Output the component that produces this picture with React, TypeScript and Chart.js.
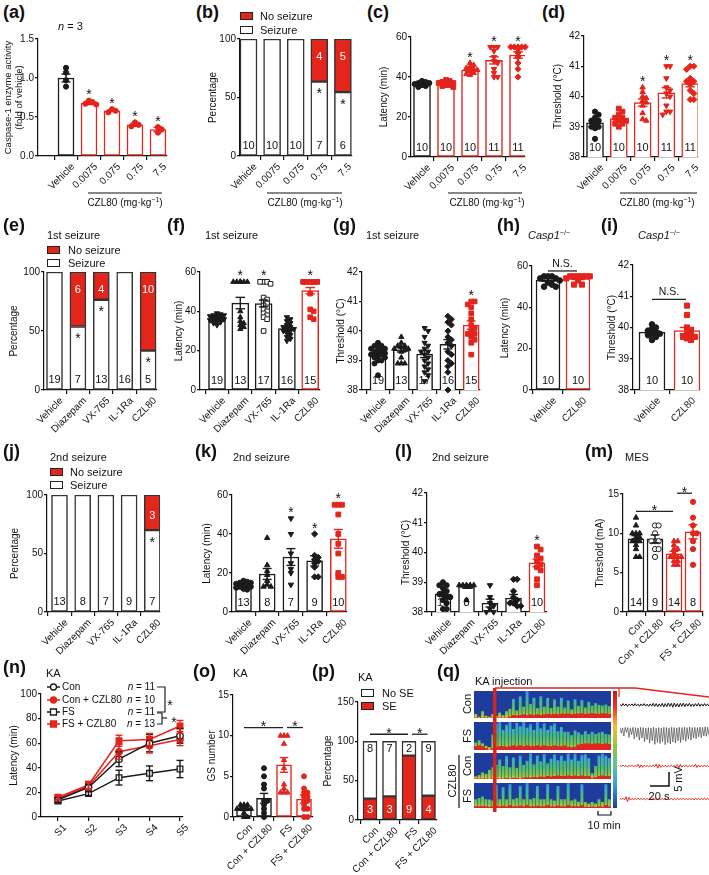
import React, { useEffect, useRef } from 'react';
import { Chart, registerables } from 'chart.js';

Chart.register(...registerables);

const FONT = "'Liberation Sans', Arial, Helvetica, sans-serif";
const RED = '#e3251c';
const BLK = '#1b1b1b';
const WHITE = '#ffffff';
const EDGE = '#333333';
const SPEC_BLUE = '#1d3c9c';
const SPEC_RED = '#e4261f';

Chart.defaults.font.family = FONT;
Chart.defaults.font.size = 10;
Chart.defaults.color = '#111111';

// ---------------- data ----------------
const doseLabels = ['Vehicle', '0.0075', '0.075', '0.75', '7.5'];
const drugLabels = ['Vehicle', 'Diazepam', 'VX-765', 'IL-1Ra', 'CZL80'];
const geneLabels = ['Vehicle', 'CZL80'];
const groupLabels = ['Con', 'Con + CZL80', 'FS', 'FS + CZL80'];
const stageLabels = ['S1', 'S2', 'S3', 'S4', 'S5'];

// y ticks: [min, max, step, decimals]
const ticksActivity = [0, 1.5, 0.5, 1];
const ticksPct = [0, 100, 50, 0];
const ticksLatency = [0, 60, 20, 0];
const ticksThreshold = [38, 42, 1, 0];
const ticksMes = [0, 15, 5, 0];
const ticksKaLatency = [0, 100, 20, 0];
const ticksGs = [0, 15, 5, 0];
const ticksSe = [0, 150, 50, 0];

// (a) caspase-1 activity
const aMean = [1.0, 0.68, 0.58, 0.4, 0.34];
const aSem = [0.05, 0.02, 0.01, 0.02, 0.03];
const aPts = [[1.13, 1.07, 0.97, 0.89], [0.71, 0.69, 0.67, 0.66], [0.6, 0.58, 0.56], [0.43, 0.4, 0.38], [0.37, 0.34, 0.3]];
const aStars = [0, 1, 1, 1, 1];

// (b) seizure incidence
const bSeizure = [10, 10, 10, 7, 6];
const bNoSeizure = [0, 0, 0, 4, 5];
const bStars = [0, 0, 0, 1, 1];

// (c) latency
const cMean = [36.2, 36.6, 43.5, 48.3, 51.0];
const cSem = [0.4, 0.4, 0.7, 1.8, 1.6];
const cN = [10, 10, 10, 11, 11];
const cStars = [0, 0, 1, 1, 1];
const cPts = [
  [35, 35.5, 36, 36, 36.5, 36.5, 37, 37, 37.5, 38],
  [35, 35.5, 36, 36, 36.5, 37, 37, 37.5, 38, 38.5],
  [41, 41.5, 42, 43, 43.5, 44, 44.5, 45, 46, 47],
  [40, 40, 42, 44, 47, 48, 50, 53, 55, 55, 55],
  [40, 44, 47, 50, 52, 54, 55, 55, 55, 55, 55],
];

// (d) threshold
const dMean = [39.13, 39.27, 39.8, 40.12, 40.43];
const dSem = [0.08, 0.06, 0.12, 0.17, 0.11];
const dN = [10, 10, 10, 11, 11];
const dStars = [0, 0, 1, 1, 1];
const dPts = [
  [39.5, 39.4, 39.3, 39.2, 39.2, 39.1, 39.0, 39.0, 38.95, 38.6],
  [39.6, 39.5, 39.4, 39.3, 39.3, 39.2, 39.2, 39.1, 39.1, 39.0],
  [40.3, 40.15, 40.0, 39.95, 39.85, 39.8, 39.7, 39.45, 39.25, 39.2],
  [41.0, 41.0, 40.6, 40.3, 40.2, 40.1, 40.0, 39.7, 39.5, 39.5, 39.4],
  [41.0, 41.0, 40.9, 40.6, 40.5, 40.5, 40.4, 40.2, 40.1, 39.9, 39.9],
];

// (e) 1st seizure incidence
const eSeizure = [19, 7, 13, 16, 5];
const eNoSeizure = [0, 6, 4, 0, 10];
const eStars = [0, 1, 1, 0, 1];

// (f) 1st seizure latency
const fMean = [36.3, 44.2, 44.0, 31.2, 50.5];
const fSem = [0.4, 2.9, 1.7, 0.9, 1.6];
const fN = [19, 13, 17, 16, 15];
const fStars = [0, 1, 1, 0, 1];
const fPts = [
  [39, 38.5, 38, 38, 37.5, 37.5, 37, 37, 36.5, 36.5, 36, 36, 35.5, 35.5, 35, 35, 34.5, 34, 33],
  [55, 55, 55, 55, 55, 55, 40, 37, 35, 34, 33, 32, 31],
  [55, 55, 55, 54, 47, 46, 45, 44, 43, 42, 41, 40, 39, 38, 37, 36, 30],
  [37, 36, 35, 34, 33, 32, 32, 31, 31, 30, 30, 29, 28, 27, 26, 25],
  [55, 55, 55, 55, 55, 55, 55, 55, 55, 55, 49, 41, 40, 37, 36],
];

// (g) 1st seizure threshold
const gMean = [39.26, 39.36, 39.22, 39.55, 40.2];
const gSem = [0.06, 0.07, 0.12, 0.16, 0.14];
const gN = [19, 13, 17, 16, 15];
const gStars = [0, 0, 0, 0, 1];
const gPts = [
  [39.6, 39.5, 39.5, 39.45, 39.4, 39.4, 39.35, 39.3, 39.3, 39.25, 39.2, 39.2, 39.15, 39.1, 39.1, 39.0, 39.0, 38.9, 38.5],
  [39.8, 39.6, 39.5, 39.5, 39.45, 39.4, 39.4, 39.35, 39.3, 39.1, 38.9, 38.9, 38.9],
  [40.1, 40.0, 39.8, 39.6, 39.5, 39.4, 39.3, 39.3, 39.2, 39.1, 39.0, 38.9, 38.8, 38.7, 38.6, 38.5, 38.3],
  [40.5, 40.4, 40.3, 40.2, 40.0, 39.8, 39.7, 39.6, 39.5, 39.3, 39.2, 39.0, 38.9, 38.8, 38.6, 38.0],
  [41.0, 41.0, 40.9, 40.8, 40.6, 40.4, 40.2, 40.1, 40.0, 39.9, 39.9, 39.8, 39.7, 39.6, 39.2],
];

// (h) Casp1-/- latency
const hMean = [53.2, 54.0];
const hSem = [0.6, 0.5];
const hN = [10, 10];
const hPts = [[55, 55, 55, 54, 54, 53, 52, 51, 50, 50], [55, 55, 55, 55, 55, 55, 54, 53, 51, 51]];
const hSig = [[0, 1, 57.6]];

// (i) Casp1-/- threshold
const iMean = [39.85, 39.9];
const iSem = [0.05, 0.1];
const iN = [10, 10];
const iPts = [[40.1, 40.0, 39.95, 39.9, 39.85, 39.8, 39.8, 39.75, 39.7, 39.6], [40.7, 40.4, 40.0, 39.9, 39.8, 39.75, 39.7, 39.7, 39.65, 39.6]];
const iSig = [[0, 1, 40.9]];

// (j) 2nd seizure incidence
const jSeizure = [13, 8, 7, 9, 7];
const jNoSeizure = [0, 0, 0, 0, 3];
const jStars = [0, 0, 0, 0, 1];

// (k) 2nd seizure latency
const kMean = [13.5, 19.5, 28.2, 26.2, 37.5];
const kSem = [0.4, 2.8, 4.3, 2.6, 4.8];
const kN = [13, 8, 7, 9, 10];
const kStars = [0, 0, 1, 1, 1];
const kPts = [
  [16, 15.5, 15, 15, 14.5, 14, 13.5, 13, 13, 12.5, 12, 12, 11.5],
  [38, 24, 21, 19, 16, 14, 13, 13],
  [48, 40, 30, 25, 22, 20, 14],
  [40, 29, 28, 27, 26, 25, 23, 18, 18],
  [55, 55, 55, 50, 40, 35, 30, 20, 18, 18],
];

// (l) 2nd seizure threshold
const lMean = [38.6, 38.86, 38.3, 38.47, 39.65];
const lSem = [0.08, 0.06, 0.13, 0.12, 0.13];
const lN = [13, 8, 7, 9, 10];
const lStars = [0, 0, 0, 0, 1];
const lPts = [
  [39.0, 38.9, 38.9, 38.8, 38.7, 38.6, 38.6, 38.5, 38.5, 38.4, 38.3, 38.1, 38.1],
  [38.9, 38.9, 38.9, 38.9, 38.9, 38.85, 38.85, 38.4],
  [38.9, 38.5, 38.3, 38.2, 38.1, 38.0, 38.0],
  [39.1, 39.1, 38.7, 38.5, 38.4, 38.3, 38.3, 38.2, 38.2],
  [40.2, 40.1, 39.9, 39.8, 39.7, 39.6, 39.5, 39.4, 39.1, 38.9],
];

// (m) MES threshold
const mMean = [9.3, 9.3, 7.4, 10.2];
const mSem = [0.4, 0.5, 0.3, 0.9];
const mN = [14, 9, 14, 8];
const mPts = [
  [12, 11, 10, 10, 10, 9.5, 9.5, 9, 9, 8.5, 8, 7, 7, 9],
  [11, 11, 10, 9, 9, 9, 8, 8, 7],
  [9, 9, 8.5, 8, 8, 7.5, 7, 7, 7, 7, 6.5, 6.5, 6, 6],
  [14, 12, 11, 10, 10, 9, 8, 6],
];
const mSig = [[0, 2, 12.8], [2, 3, 15.1]];

// (n) KA latency across stages
const nCon = [14, 24, 47, 60, 66];
const nConSem = [2, 2.5, 6, 7, 6];
const nConCzl = [15, 25, 53, 58, 63];
const nConCzlSem = [2, 3, 6, 6, 5];
const nFs = [13, 19, 32, 35.5, 39];
const nFsSem = [1.5, 1.5, 6, 6, 7];
const nFsCzl = [16, 26, 62, 63, 74];
const nFsCzlSem = [2, 3, 4.5, 5, 4.5];
const nN = [11, 10, 11, 13];

// (o) GS number
const oMean = [1.0, 2.3, 6.4, 2.2];
const oSem = [0.2, 0.6, 0.9, 0.5];
const oN = [11, 10, 11, 13];
const oPts = [
  [1.5, 1.5, 1.5, 1, 1, 1, 1, 1, 0.5, 0, 0],
  [6, 5, 4, 3.5, 2, 2, 1.5, 1, 0.5, 0],
  [10, 10, 10, 9, 7, 6, 4, 3.5, 3, 3, 3],
  [5, 3.5, 3, 3, 2.5, 2.5, 2, 2, 1.5, 1, 1, 0, 0],
];
const oSig = [[0, 2, 11], [2, 3, 11]];

// (p) SE incidence
const pSE = [3, 3, 9, 4];
const pNoSE = [8, 7, 2, 9];
const pSig = [[0, 2, 109], [2, 3, 109]];

// (q) spectrogram columns (fraction of row height): red band, green activity
const specRed1 = [0, 0, 0, 0, 0, 0, 0, 0, 0, 0, 0.04, 0.1, 0.08, 0.1, 0.12, 0.1, 0.12, 0.1, 0.12, 0.1, 0.12, 0.14, 0.12, 0.14, 0.12, 0.15, 0.14, 0.15, 0.12, 0.14, 0.15, 0.16, 0.14, 0.15, 0.16, 0.15, 0.14, 0.16, 0.15, 0.14];
const specGreen1 = [0.15, 0.05, 0.25, 0.08, 0.05, 0.15, 0.08, 0.2, 0.1, 0.25, 0.3, 0.6, 0.2, 0.7, 0.3, 0.95, 0.4, 0.65, 0.25, 0.7, 0.3, 0.6, 0.25, 0.55, 0.3, 0.6, 0.25, 0.5, 0.2, 0.55, 0.3, 0.5, 0.25, 0.45, 0.3, 0.4, 0.35, 0.3, 0.35, 0.3];
const specRed2 = [0.12, 0.15, 0.12, 0.05, 0, 0.05, 0.1, 0.12, 0.12, 0.1, 0.12, 0.15, 0.12, 0.15, 0.12, 0.15, 0.12, 0.12, 0.15, 0.12, 0.15, 0.12, 0.12, 0.15, 0.12, 0.12, 0.15, 0.1, 0.08, 0.1, 0.18, 0.2, 0.22, 0.22, 0.2, 0.22, 0.22, 0.2, 0.22, 0.2];
const specGreen2 = [0.15, 0.2, 0.12, 0.1, 0.1, 0.5, 0.85, 0.9, 0.6, 0.8, 0.9, 0.6, 0.85, 0.7, 0.9, 0.65, 0.8, 0.6, 0.85, 0.65, 0.8, 0.6, 0.75, 0.8, 0.55, 0.7, 0.5, 0.55, 0.45, 0.6, 0.45, 0.35, 0.45, 0.35, 0.45, 0.35, 0.4, 0.45, 0.35, 0.35];
const specRed3 = [0, 0, 0, 0, 0, 0, 0, 0, 0, 0.03, 0, 0.03, 0.03, 0, 0.04, 0.05, 0.04, 0.06, 0.05, 0.08, 0.06, 0.1, 0.08, 0.1, 0.12, 0.1, 0.1, 0.12, 0.1, 0.12, 0.1, 0.12, 0.1, 0.1, 0.02, 0.05, 0.1, 0.12, 0.1, 0.1];
const specGreen3 = [0.1, 0.15, 0.25, 0.2, 0.35, 0.45, 0.55, 0.75, 0.5, 0.85, 0.45, 0.8, 0.4, 0.9, 0.5, 0.65, 0.95, 0.5, 0.85, 0.6, 0.9, 0.5, 0.7, 0.85, 0.6, 0.8, 0.6, 0.85, 0.65, 0.85, 0.6, 0.8, 0.85, 0.7, 0.2, 0.45, 0.8, 0.85, 0.8, 0.7];
const specRed4 = [0.05, 0.05, 0.06, 0.05, 0.04, 0.05, 0.08, 0.05, 0.08, 0.05, 0.1, 0.05, 0.05, 0.08, 0.05, 0.1, 0.05, 0.05, 0.08, 0.05, 0.05, 0.1, 0.05, 0.05, 0.08, 0.05, 0.05, 0.1, 0.05, 0.05, 0.05, 0.1, 0.04, 0.03, 0.04, 0.03, 0.05, 0.04, 0.1, 0.05];
const specGreen4 = [0.3, 0.35, 0.4, 0.3, 0.3, 0.25, 0.85, 0.3, 0.75, 0.3, 0.85, 0.3, 0.35, 0.8, 0.3, 0.9, 0.3, 0.35, 0.8, 0.3, 0.3, 0.85, 0.3, 0.25, 0.8, 0.3, 0.3, 0.9, 0.25, 0.3, 0.2, 0.85, 0.2, 0.15, 0.2, 0.15, 0.3, 0.2, 0.85, 0.3];

// (q) EEG traces (mV)
const trace1 = [0.3, -0.4, 0.5, -0.3, 0.4, -0.5, 0.3, -0.2, 0.4, -0.4, 0.5, -0.3, 0.3, -0.5, 0.4, -0.3, 0.5, -0.4, 0.3, -0.5, 0.4, -0.4, 0.6, -0.5, 0.5, -0.6, 0.4, -0.5, 0.6, -0.7, 0.5, -0.6, 0.7, -0.5, 0.6, -0.8, 0.7, -0.6, 0.5, -0.7, 0.6, -0.5, 0.7, -0.6, 0.5, -0.4, 0.6, -0.5, 0.4, -0.5, 0.5, -0.4, 0.6, -0.5, 0.4, -0.4, 0.5, -0.3, 0.4, -0.4];
const trace2 = [0.5, -1.5, 0.4, -2.5, 0.6, -1.2, 0.5, -3, 0.4, -2, 0.6, -3.5, 0.5, -2.8, 0.4, -4, 0.6, -3.2, 0.5, -4.5, 0.3, -3.8, 0.5, -5, 0.4, -4.2, 0.6, -5.5, 0.3, -4.8, 0.5, -5.2, 0.4, -4.5, 0.6, -5.6, 0.5, -4.9, 0.4, -5.3, 0.6, -4.6, 0.5, -5, 0.4, -4.2, 0.6, -4.8, 0.5, -3.9, 0.6, -4.4, 0.5, -3.6, 0.7, -4, 0.5, -3.2, 0.6, -3.5, 0.5, -2.8, 0.7, -3.1, 0.6, -2.5, 0.8, -2.6, 0.6, -2.2];
const trace3 = [0.2, -0.2, 0.3, -0.2, 0.2, -0.3, 0.2, -0.2, 0.3, -0.3, 0.2, -0.2, 0.6, -0.6, 0.4, -0.5, 0.3, -0.2, 0.2, -0.3, 0.2, -0.2, 0.3, -0.2, 0.7, -0.8, 0.6, -0.5, 0.3, -0.2, 0.2, -0.3, 0.2, -0.2, 0.3, -0.2, 0.2, -0.3, 0.5, -0.7, 0.6, -0.4, 0.2, -0.2, 0.3, -0.3, 0.2, -0.2, 0.3, -0.2, 0.6, -0.5, 0.4, -0.3, 0.2, -0.2, 0.3, -0.2, 0.2, -0.3];
const trace4 = [0.2, -0.2, 0.3, -0.3, 0.8, -0.9, 0.6, -0.4, 0.2, -0.2, 0.2, -0.2, 0.3, -0.2, 0.2, -0.2, 0.2, -0.3, 0.2, -0.2, 0.2, -0.2, 0.3, -0.2, 0.2, -0.2, 0.2, -0.2, 0.2, -0.2, 0.3, -0.2, 0.2, -0.2, 0.2, -0.3, 0.2, -0.2, 0.2, -0.2, 0.2, -0.2, 0.3, -0.2, 0.2, -0.2, 0.2, -0.2, 0.2, -0.3, 0.2, -0.2, 0.2, -0.2, 0.2, -0.2, 0.3, -0.2, 0.2, -0.2];

// ---------------- layout ----------------
type Lay = { titleX: number; axisX: number; xRight: number; yTop: number; yBottom: number; c0: number; step: number; padTop?: number };
const PAD_L = 40;
const PAD_R = 12;
const XH = 80;

const aLay: Lay = { titleX: 9, axisX: 38, xRight: 167, yTop: 39, yBottom: 156, c0: 66, step: 23 };
const bLay: Lay = { titleX: 213, axisX: 240, xRight: 352, yTop: 39, yBottom: 156, c0: 248.5, step: 23.6 };
const cLay: Lay = { titleX: 384, axisX: 411, xRight: 525, yTop: 37, yBottom: 157, c0: 422, step: 24 };
const dLay: Lay = { titleX: 558, axisX: 584, xRight: 698, yTop: 36, yBottom: 157, c0: 595, step: 23.8 };
const eLay: Lay = { titleX: 14, axisX: 44, xRight: 157, yTop: 272, yBottom: 390, c0: 54.5, step: 23.4 };
const fLay: Lay = { titleX: 179, axisX: 200, xRight: 320, yTop: 272, yBottom: 390, c0: 217, step: 23.3 };
const gLay: Lay = { titleX: 341, axisX: 362, xRight: 480, yTop: 272, yBottom: 390, c0: 378, step: 23.3 };
const hLay: Lay = { titleX: 505, axisX: 532, xRight: 590, yTop: 266, yBottom: 390, c0: 548, step: 30 };
const iLay: Lay = { titleX: 612, axisX: 633, xRight: 700, yTop: 265, yBottom: 390, c0: 652, step: 35 };
const jLay: Lay = { titleX: 15, axisX: 47, xRight: 160, yTop: 495, yBottom: 612, c0: 59.5, step: 23.2 };
const kLay: Lay = { titleX: 207, axisX: 232, xRight: 347, yTop: 495, yBottom: 612, c0: 243.5, step: 23.7 };
const lLay: Lay = { titleX: 406, axisX: 427, xRight: 547, yTop: 493, yBottom: 612, c0: 443, step: 23.5 };
const mLay: Lay = { titleX: 600, axisX: 623, xRight: 703, yTop: 494, yBottom: 612, c0: 636, step: 19 };
const nLay: Lay = { titleX: 14, axisX: 41, xRight: 183, yTop: 694, yBottom: 817, c0: 58, step: 30.5, padTop: 18 };
const oLay: Lay = { titleX: 212, axisX: 233, xRight: 313, yTop: 695, yBottom: 817, c0: 244, step: 20 };
const pLay: Lay = { titleX: 328, axisX: 358, xRight: 437, yTop: 702, yBottom: 820, c0: 370, step: 19.5 };

function frame(l: Lay) {
  const padTop = l.padTop ?? 10;
  const left = Math.round(l.titleX - 6 - PAD_L);
  const top = l.yTop - padTop;
  return {
    left, top, padTop,
    w: l.xRight + PAD_R - left,
    h: l.yBottom - top + XH,
    yw: l.axisX - (left + PAD_L),
    xmin: (l.axisX - l.c0) / l.step,
    xmax: (l.xRight - l.c0) / l.step,
  };
}

// ---------------- helpers ----------------
const xGrid = { display: true, drawOnChartArea: false, drawTicks: true, tickLength: 4, color: '#111', lineWidth: 1.2 };
const yGrid = { display: true, drawOnChartArea: false, drawTicks: true, tickLength: 3, color: '#111', lineWidth: 1.2 };
const borderOpts = { display: true, color: '#111', width: 1.2 };

function xScale(labels: string[], min: number, max: number, stacked = false) {
  return {
    type: 'linear', min, max, bounds: 'data', stacked, offset: false,
    afterBuildTicks: (sc: any) => { sc.ticks = labels.map((_, i) => ({ value: i })); },
    afterFit: (sc: any) => { sc.height = XH; },
    ticks: {
      autoSkip: false, minRotation: 45, maxRotation: 45, padding: 1, labelOffset: 7, color: '#111', font: { size: 10 },
      callback: (v: any) => labels[Math.round(Number(v))] ?? '',
    },
    grid: xGrid, border: borderOpts,
  };
}

function yScale(t: number[], title: any, yw: number, stacked = false) {
  const [min, max, step, dec] = t;
  const multi = Array.isArray(title);
  return {
    type: 'linear', min, max, stacked,
    afterFit: (sc: any) => { sc.width = yw; },
    ticks: { stepSize: step, padding: 1, color: '#111', font: { size: 10 }, callback: (v: any) => Number(v).toFixed(dec) },
    grid: yGrid, border: borderOpts,
    title: {
      display: true, text: title, color: '#111',
      font: multi ? { size: 9.5, lineHeight: 1.12 } : { size: 10 },
      padding: { top: 0, bottom: 0 },
    },
  };
}

function baseOptions(f: any, xs: any, ys: any) {
  return {
    responsive: false, maintainAspectRatio: false, animation: false, devicePixelRatio: 1, events: [],
    layout: { padding: { left: PAD_L, right: PAD_R, top: f.padTop, bottom: 0 } },
    plugins: { legend: { display: false }, tooltip: { enabled: false }, title: { display: false } },
    scales: { x: xs, y: ys },
  };
}

const px = (c: any, v: number) => c.scales.x.getPixelForValue(v);
const py = (c: any, v: number) => c.scales.y.getPixelForValue(v);

function txt(ctx: any, s: string, x: number, y: number, size = 11, color = '#111', align = 'center', style = '') {
  ctx.font = `${style} ${size}px ${FONT}`;
  ctx.fillStyle = color;
  ctx.textAlign = align;
  ctx.textBaseline = 'middle';
  ctx.fillText(s, x, y);
}
function starAt(ctx: any, x: number, y: number) {
  ctx.font = `14px ${FONT}`;
  ctx.fillStyle = '#111';
  ctx.textAlign = 'center';
  ctx.textBaseline = 'alphabetic';
  ctx.fillText('*', x, y + 0.54 * 14);
}
function seg(ctx: any, pts: number[][], color = '#111', w = 1.2) {
  ctx.strokeStyle = color; ctx.lineWidth = w; ctx.beginPath();
  pts.forEach((p, i) => (i ? ctx.lineTo(p[0], p[1]) : ctx.moveTo(p[0], p[1])));
  ctx.stroke();
}
function errBars(chart: any, means: number[], sems: number[], colors: string[], cap: number) {
  const ctx = chart.ctx;
  means.forEach((m, i) => {
    const x = px(chart, i), y1 = py(chart, m - sems[i]), y2 = py(chart, m + sems[i]);
    seg(ctx, [[x, y1], [x, y2]], colors[i], 1.4);
    seg(ctx, [[x - cap, y1], [x + cap, y1]], colors[i], 1.4);
    seg(ctx, [[x - cap, y2], [x + cap, y2]], colors[i], 1.4);
  });
}
function drawSig(chart: any, sig: number[][], label: string) {
  const ctx = chart.ctx;
  let prevEnd = -1;
  sig.forEach(([i, j, v]) => {
    const x1 = px(chart, i) + (i === prevEnd ? 3 : 0);
    const x2 = px(chart, j) - 1;
    const y = py(chart, v);
    seg(ctx, [[x1, y], [x2, y]], '#222', 1.3);
    if (label === '*') starAt(ctx, (x1 + x2) / 2, y - 4);
    else txt(ctx, label, (x1 + x2) / 2, y - 7, 10.5);
    prevEnd = j;
  });
}

function marker(m: string, color: string) {
  switch (m) {
    case 'oc': return { style: 'circle', rot: 0, fill: WHITE, scale: 1 };
    case 's': return { style: 'rect', rot: 0, fill: color, scale: 1.3 };
    case 'os': return { style: 'rect', rot: 0, fill: WHITE, scale: 1.3 };
    case 't': return { style: 'triangle', rot: 0, fill: color, scale: 1.2 };
    case 'td': return { style: 'triangle', rot: 180, fill: color, scale: 1.2 };
    case 'd': return { style: 'rectRot', rot: 0, fill: color, scale: 1.2 };
    default: return { style: 'circle', rot: 0, fill: color, scale: 1 };
  }
}

function swarm(vals: number[], ytol: number, dx: number, maxOff: number): number[] {
  const res: number[] = new Array(vals.length).fill(0);
  const placed: { o: number; v: number }[] = [];
  const K = Math.max(0, Math.floor(maxOff / dx));
  const cands: number[] = [0];
  for (let k = 1; k <= K; k++) cands.push(k * dx, -k * dx);
  const idx = vals.map((_, i) => i).sort((a, b) => vals[b] - vals[a]);
  for (const i of idx) {
    const v = vals[i];
    let best = 0, bestScore = Infinity;
    for (const o of cands) {
      let score = 0;
      for (const p of placed) if (Math.abs(p.v - v) < ytol && Math.abs(p.o - o) < dx * 0.95) score++;
      if (score < bestScore) { bestScore = score; best = o; if (score === 0) break; }
    }
    res[i] = best;
    placed.push({ o: best, v });
  }
  return res;
}

// ---------------- panel builders ----------------
type DotSpec = {
  lay: Lay; labels: string[]; mean: number[]; sem: number[]; pts: number[][]; colors: string[]; markers: string[];
  counts: number[]; stars: number[]; y: number[]; ytitle: any; barW: number; r: number; sig?: number[][]; sigLabel?: string;
};

function dotPanel(s: DotSpec) {
  const f = frame(s.lay);
  const upp = (s.y[1] - s.y[0]) / (s.lay.yBottom - s.lay.yTop);
  const make = () => {
    const datasets: any[] = [{
      type: 'bar', data: s.mean.map((m, i) => ({ x: i, y: m })),
      backgroundColor: WHITE, borderColor: s.colors, borderWidth: 1.5, borderSkipped: false,
      barThickness: s.barW, order: 3,
    }];
    s.pts.forEach((vals, g) => {
      const mk = marker(s.markers[g], s.colors[g]);
      const offs = swarm(vals, s.r * 1.5 * upp, (s.r * 1.4) / s.lay.step, (s.barW * 0.5) / s.lay.step);
      datasets.push({
        type: 'scatter', data: vals.map((v, k) => ({ x: g + offs[k], y: v })),
        pointStyle: mk.style, pointRotation: mk.rot, pointRadius: s.r * mk.scale,
        pointBackgroundColor: mk.fill, pointBorderColor: s.colors[g], pointBorderWidth: 1, order: 1, clip: false,
      });
    });
    const plugin = {
      id: 'dotExtras',
      afterDatasetsDraw(chart: any) {
        const ctx = chart.ctx;
        ctx.save();
        errBars(chart, s.mean, s.sem, s.colors, s.barW * 0.28);
        const yb = py(chart, s.y[0]);
        s.counts.forEach((n, i) => txt(ctx, String(n), px(chart, i), yb - 9, 11));
        s.stars.forEach((st, i) => {
          if (!st) return;
          const top = Math.min(py(chart, Math.max(...s.pts[i])), py(chart, s.mean[i] + s.sem[i]));
          starAt(ctx, px(chart, i), top - 9);
        });
        if (s.sig) drawSig(chart, s.sig, s.sigLabel || '*');
        ctx.restore();
      },
    };
    return {
      type: 'bar', data: { datasets },
      options: baseOptions(f, xScale(s.labels, f.xmin, f.xmax), yScale(s.y, s.ytitle, f.yw)),
      plugins: [plugin],
    };
  };
  return { x: f.left, y: f.top, w: f.w, h: f.h, make };
}

type PctSpec = {
  lay: Lay; labels: string[]; bottom: number[]; top: number[]; bottomFill: string; topFill: string;
  bottomText: string; topText: string; stars: number[]; y: number[]; barW: number; topOff: number; sig?: number[][];
};

function pctPanel(s: PctSpec) {
  const f = frame(s.lay);
  const make = () => {
    const tot = s.bottom.map((b, i) => b + s.top[i]);
    const bp = s.bottom.map((b, i) => (b / tot[i]) * 100);
    const tp = s.top.map((t, i) => (t / tot[i]) * 100);
    const ds = (vals: number[], fill: string) => ({
      type: 'bar', data: vals.map((v, i) => ({ x: i, y: v > 0 ? v : null })),
      backgroundColor: fill, borderColor: EDGE, borderWidth: 1.5, borderSkipped: false, barThickness: s.barW,
    });
    const plugin = {
      id: 'pctExtras',
      afterDatasetsDraw(chart: any) {
        const ctx = chart.ctx;
        ctx.save();
        const yb = py(chart, 0);
        s.bottom.forEach((b, i) => txt(ctx, String(b), px(chart, i), yb - 10, 11, s.bottomText));
        s.top.forEach((t, i) => { if (t > 0) txt(ctx, String(t), px(chart, i), py(chart, 100) + s.topOff, 11, s.topText); });
        s.stars.forEach((st, i) => { if (st) starAt(ctx, px(chart, i), py(chart, bp[i]) + 9); });
        if (s.sig) drawSig(chart, s.sig, '*');
        ctx.restore();
      },
    };
    return {
      type: 'bar', data: { datasets: [ds(bp, s.bottomFill), ds(tp, s.topFill)] },
      options: baseOptions(f, xScale(s.labels, f.xmin, f.xmax, true), yScale(s.y, 'Percentage', f.yw, true)),
      plugins: [plugin],
    };
  };
  return { x: f.left, y: f.top, w: f.w, h: f.h, make };
}

function linePanel() {
  const f = frame(nLay);
  const series = [
    { name: groupLabels[0], vals: nCon, sem: nConSem, color: BLK, style: 'circle', fill: WHITE },
    { name: groupLabels[1], vals: nConCzl, sem: nConCzlSem, color: RED, style: 'circle', fill: RED },
    { name: groupLabels[2], vals: nFs, sem: nFsSem, color: BLK, style: 'rect', fill: WHITE },
    { name: groupLabels[3], vals: nFsCzl, sem: nFsCzlSem, color: RED, style: 'rect', fill: RED },
  ];
  const make = () => {
    const datasets = series.map((s) => ({
      type: 'line', data: s.vals.map((v, i) => ({ x: i, y: v })), borderColor: s.color, borderWidth: 1.5,
      pointStyle: s.style, pointRadius: s.style === 'rect' ? 4 : 3.2, pointBackgroundColor: s.fill,
      pointBorderColor: s.color, pointBorderWidth: 1.3, clip: false, tension: 0,
    }));
    const plugin = {
      id: 'lineExtras',
      afterDatasetsDraw(chart: any) {
        const ctx = chart.ctx;
        ctx.save();
        series.forEach((s) => errBars(chart, s.vals, s.sem, s.vals.map(() => s.color), 3.5));
        const ox = f.left, oy = f.top;
        const rows = [687, 700, 712, 724];
        series.forEach((s, k) => {
          const y = rows[k] - oy;
          seg(ctx, [[47 - ox, y], [60 - ox, y]], s.color, 1.5);
          const mx = 53.5 - ox;
          ctx.fillStyle = s.fill; ctx.strokeStyle = s.color; ctx.lineWidth = 1.3;
          ctx.beginPath();
          if (s.style === 'circle') ctx.arc(mx, y, 3, 0, Math.PI * 2); else ctx.rect(mx - 3, y - 3, 6, 6);
          ctx.fill(); ctx.stroke();
          txt(ctx, s.name, 62 - ox, y, 10, '#111', 'left');
          ctx.font = `10px ${FONT}`;
          const tail = ` = ${nN[k]}`;
          const w2 = ctx.measureText(tail).width;
          txt(ctx, tail, 155 - ox, y, 10, '#111', 'right');
          txt(ctx, 'n', 155 - ox - w2, y, 10, '#111', 'right', 'italic');
        });
        seg(ctx, [[157 - ox, rows[0] - oy], [165 - ox, rows[0] - oy], [165 - ox, rows[2] - oy], [157 - ox, rows[2] - oy]], '#222', 1.2);
        seg(ctx, [[157 - ox, rows[2] - oy + 1], [162 - ox, rows[2] - oy + 1], [162 - ox, rows[3] - oy], [157 - ox, rows[3] - oy]], '#222', 1.2);
        seg(ctx, [[162 - ox, (rows[2] + rows[3]) / 2 - oy], [167 - ox, (rows[2] + rows[3]) / 2 - oy]], '#222', 1.2);
        starAt(ctx, 170 - ox, 702 - oy);
        starAt(ctx, 174 - ox, 719 - oy);
        ctx.restore();
      },
    };
    return {
      type: 'line', data: { datasets },
      options: baseOptions(f, xScale(stageLabels, f.xmin, f.xmax), yScale(ticksKaLatency, 'Latency (min)', f.yw)),
      plugins: [plugin],
    };
  };
  return { x: f.left, y: f.top, w: f.w, h: f.h, make };
}

const specBg = {
  id: 'specBg',
  beforeDatasetsDraw(chart: any) {
    const { ctx, chartArea: a } = chart;
    ctx.save(); ctx.fillStyle = SPEC_BLUE; ctx.fillRect(a.left, a.top, a.right - a.left, a.bottom - a.top); ctx.restore();
  },
};

function specPanel(x: number, y: number, w: number, h: number, red: number[], green: number[]) {
  const make = () => ({
    type: 'bar',
    data: {
      labels: red.map((_, i) => String(i)),
      datasets: [
        { data: red, backgroundColor: SPEC_RED, borderWidth: 0, barPercentage: 1, categoryPercentage: 1 },
        {
          data: green, borderWidth: 0, barPercentage: 0.85, categoryPercentage: 1,
          backgroundColor: (c: any) => {
            const { ctx, chartArea } = c.chart;
            if (!chartArea) return '#6cc04a';
            const g = ctx.createLinearGradient(0, chartArea.bottom, 0, chartArea.top);
            g.addColorStop(0, '#e0c832'); g.addColorStop(0.15, '#8cc63f'); g.addColorStop(0.45, '#4cbb6c');
            g.addColorStop(0.75, '#3ab0c0'); g.addColorStop(1, '#3c8fd8');
            return g;
          },
        },
      ],
    },
    options: {
      responsive: false, maintainAspectRatio: false, animation: false, devicePixelRatio: 1, events: [],
      layout: { padding: 0 },
      plugins: { legend: { display: false }, tooltip: { enabled: false } },
      scales: { x: { display: false, stacked: true }, y: { display: false, stacked: true, min: 0, max: 1 } },
    },
    plugins: [specBg],
  });
  return { x, y, w, h, make };
}

function tracePanel(x: number, y: number, w: number, h: number, vals: number[], color: string, ymin: number, ymax: number, lw: number) {
  const make = () => ({
    type: 'line',
    data: { labels: vals.map((_, i) => String(i)), datasets: [{ data: vals, borderColor: color, borderWidth: lw, pointRadius: 0, tension: 0 }] },
    options: {
      responsive: false, maintainAspectRatio: false, animation: false, devicePixelRatio: 1, events: [],
      layout: { padding: 0 },
      plugins: { legend: { display: false }, tooltip: { enabled: false } },
      scales: { x: { display: false }, y: { display: false, min: ymin, max: ymax } },
    },
  });
  return { x, y, w, h, make };
}

const C5 = [BLK, RED, RED, RED, RED];
const D5 = [BLK, BLK, BLK, BLK, RED];

const panels = [
  dotPanel({ lay: aLay, labels: doseLabels, mean: aMean, sem: aSem, pts: aPts, colors: C5, markers: ['c', 'c', 'c', 'c', 'c'], counts: [], stars: aStars, y: ticksActivity, ytitle: ['Caspase-1 enzyme activity', '(fold of vehicle)'], barW: 16, r: 2.6 }),
  pctPanel({ lay: bLay, labels: doseLabels, bottom: bSeizure, top: bNoSeizure, bottomFill: WHITE, topFill: RED, bottomText: '#111', topText: WHITE, stars: bStars, y: ticksPct, barW: 17, topOff: 18 }),
  dotPanel({ lay: cLay, labels: doseLabels, mean: cMean, sem: cSem, pts: cPts, colors: C5, markers: ['c', 's', 't', 'td', 'd'], counts: cN, stars: cStars, y: ticksLatency, ytitle: 'Latency (min)', barW: 17, r: 2.6 }),
  dotPanel({ lay: dLay, labels: doseLabels, mean: dMean, sem: dSem, pts: dPts, colors: C5, markers: ['c', 's', 't', 'td', 'd'], counts: dN, stars: dStars, y: ticksThreshold, ytitle: 'Threshold (°C)', barW: 17, r: 2.6 }),
  pctPanel({ lay: eLay, labels: drugLabels, bottom: eSeizure, top: eNoSeizure, bottomFill: WHITE, topFill: RED, bottomText: '#111', topText: WHITE, stars: eStars, y: ticksPct, barW: 16, topOff: 18 }),
  dotPanel({ lay: fLay, labels: drugLabels, mean: fMean, sem: fSem, pts: fPts, colors: D5, markers: ['td', 't', 'os', 'td', 's'], counts: fN, stars: fStars, y: ticksLatency, ytitle: 'Latency (min)', barW: 17, r: 2.5 }),
  dotPanel({ lay: gLay, labels: drugLabels, mean: gMean, sem: gSem, pts: gPts, colors: D5, markers: ['c', 't', 'td', 'd', 's'], counts: gN, stars: gStars, y: ticksThreshold, ytitle: 'Threshold (°C)', barW: 16, r: 2.5 }),
  dotPanel({ lay: hLay, labels: geneLabels, mean: hMean, sem: hSem, pts: hPts, colors: [BLK, RED], markers: ['c', 's'], counts: hN, stars: [0, 0], y: ticksLatency, ytitle: 'Latency (min)', barW: 24, r: 2.8, sig: hSig, sigLabel: 'N.S.' }),
  dotPanel({ lay: iLay, labels: geneLabels, mean: iMean, sem: iSem, pts: iPts, colors: [BLK, RED], markers: ['c', 's'], counts: iN, stars: [0, 0], y: ticksThreshold, ytitle: 'Threshold (°C)', barW: 26, r: 2.8, sig: iSig, sigLabel: 'N.S.' }),
  pctPanel({ lay: jLay, labels: drugLabels, bottom: jSeizure, top: jNoSeizure, bottomFill: WHITE, topFill: RED, bottomText: '#111', topText: WHITE, stars: jStars, y: ticksPct, barW: 16, topOff: 21 }),
  dotPanel({ lay: kLay, labels: drugLabels, mean: kMean, sem: kSem, pts: kPts, colors: D5, markers: ['c', 't', 'td', 'd', 's'], counts: kN, stars: kStars, y: ticksLatency, ytitle: 'Latency (min)', barW: 16, r: 2.6 }),
  dotPanel({ lay: lLay, labels: drugLabels, mean: lMean, sem: lSem, pts: lPts, colors: D5, markers: ['c', 't', 'td', 'd', 's'], counts: lN, stars: lStars, y: ticksThreshold, ytitle: 'Threshold (°C)', barW: 16, r: 2.6 }),
  dotPanel({ lay: mLay, labels: groupLabels, mean: mMean, sem: mSem, pts: mPts, colors: [BLK, BLK, RED, RED], markers: ['t', 'oc', 't', 'c'], counts: mN, stars: [0, 0, 0, 0], y: ticksMes, ytitle: 'Threshold (mA)', barW: 16, r: 2.6, sig: mSig, sigLabel: '*' }),
  linePanel(),
  dotPanel({ lay: oLay, labels: groupLabels, mean: oMean, sem: oSem, pts: oPts, colors: [BLK, BLK, RED, RED], markers: ['t', 'c', 't', 'c'], counts: [], stars: [0, 0, 0, 0], y: ticksGs, ytitle: 'GS number', barW: 15, r: 2.5, sig: oSig, sigLabel: '*' }),
  pctPanel({ lay: pLay, labels: groupLabels, bottom: pSE, top: pNoSE, bottomFill: RED, topFill: WHITE, bottomText: WHITE, topText: '#111', stars: [0, 0, 0, 0], y: ticksSe, barW: 14, topOff: 8, sig: pSig }),
  specPanel(474, 691, 137, 27, specRed1, specGreen1),
  specPanel(474, 722, 137, 28, specRed2, specGreen2),
  specPanel(474, 753, 137, 26, specRed3, specGreen3),
  specPanel(474, 783, 137, 25, specRed4, specGreen4),
  tracePanel(620, 695, 89, 20, trace1, '#111', -3.57, 3.57, 1),
  tracePanel(620, 722, 89, 28, trace2, '#333', -7.5, 2.5, 0.6),
  tracePanel(620, 756, 89, 20, trace3, RED, -3.57, 3.57, 1),
  tracePanel(620, 789, 89, 20, trace4, RED, -3.57, 3.57, 1),
];

// ---------------- components ----------------
function ChartBox({ x, y, w, h, make }: any) {
  const ref = useRef<HTMLCanvasElement>(null);
  useEffect(() => {
    const chart = new Chart(ref.current as any, make());
    return () => chart.destroy();
  }, []);
  return <canvas ref={ref} width={w} height={h} style={{ position: 'absolute', left: x, top: y, width: w, height: h }} />;
}

function Txt({ x, y, s = 11, b = false, it = false, mid = false, rot = false, color = '#111', children }: any) {
  const style: any = {
    position: 'absolute', left: x, top: y - s / 2, fontSize: s, lineHeight: `${s}px`, whiteSpace: 'nowrap',
    fontWeight: b ? 'bold' : 'normal', fontStyle: it ? 'italic' : 'normal', color, fontFamily: FONT,
  };
  if (mid) style.transform = 'translateX(-50%)';
  if (rot) { style.top = y; style.transform = 'translate(-50%, -50%) rotate(-90deg)'; }
  return <div style={style}>{children}</div>;
}

function Box({ x, y, fill }: any) {
  return <div style={{ position: 'absolute', left: x, top: y, width: 13, height: 8, boxSizing: 'border-box', border: '1.3px solid #222', background: fill }} />;
}

const sup = (t: string) => <span style={{ fontSize: 7, position: 'relative', top: -4 }}>{t}</span>;
const doseAxis = (cx: number) => (
  <Txt x={cx} y={203} s={10} mid>CZL80 (mg·kg{sup('−1')})</Txt>
);
const casp = (x: number) => (
  <Txt x={x} y={235} s={11}><i>Casp1</i>{sup('−/−')}</Txt>
);

export default function App() {
  const letters: [string, number, number][] = [
    ['(a)', 3, 12], ['(b)', 196, 12], ['(c)', 367, 12], ['(d)', 542, 12],
    ['(e)', 3, 225], ['(f)', 167, 225], ['(g)', 333, 225], ['(h)', 497, 225], ['(i)', 601, 225],
    ['(j)', 3, 451], ['(k)', 195, 451], ['(l)', 395, 451], ['(m)', 585, 451],
    ['(n)', 3, 667], ['(o)', 193, 671], ['(p)', 312, 671], ['(q)', 437, 671],
  ];
  return (
    <div style={{ position: 'absolute', left: 0, top: 0, width: 709, height: 875, background: '#fff', overflow: 'hidden', fontFamily: FONT, color: '#111' }}>
      {panels.map((p, i) => <ChartBox key={i} {...p} />)}

      {letters.map(([t, x, y]) => <Txt key={t} x={x} y={y} s={18} b>{t}</Txt>)}

      <Txt x={58} y={26} s={11}><i>n</i> = 3</Txt>
      {doseAxis(125)}{doseAxis(305)}{doseAxis(487)}{doseAxis(657)}

      <Box x={240} y={12} fill={RED} /><Txt x={260} y={16}>No seizure</Txt>
      <Box x={240} y={26} fill={WHITE} /><Txt x={260} y={30}>Seizure</Txt>

      <Txt x={47} y={235}>1st seizure</Txt>
      <Box x={47} y={246} fill={RED} /><Txt x={68} y={250}>No seizure</Txt>
      <Box x={47} y={259} fill={WHITE} /><Txt x={68} y={263}>Seizure</Txt>
      <Txt x={205} y={235}>1st seizure</Txt>
      <Txt x={366} y={235}>1st seizure</Txt>
      {casp(528)}{casp(638)}

      <Txt x={50} y={457}>2nd seizure</Txt>
      <Box x={50} y={468} fill={RED} /><Txt x={70} y={472}>No seizure</Txt>
      <Box x={50} y={481} fill={WHITE} /><Txt x={70} y={485}>Seizure</Txt>
      <Txt x={233} y={457}>2nd seizure</Txt>
      <Txt x={432} y={457}>2nd seizure</Txt>
      <Txt x={625} y={457}>MES</Txt>

      <Txt x={46} y={673}>KA</Txt>
      <Txt x={233} y={673}>KA</Txt>
      <Txt x={358} y={677}>KA</Txt>
      <Box x={361} y={689} fill={WHITE} /><Txt x={382} y={693}>No SE</Txt>
      <Box x={361} y={702} fill={RED} /><Txt x={382} y={706}>SE</Txt>

      <Txt x={475} y={681}>KA injection</Txt>
      <Txt x={467} y={704} rot>Con</Txt>
      <Txt x={467} y={736} rot>FS</Txt>
      <Txt x={467} y={766} rot>Con</Txt>
      <Txt x={467} y={796} rot>FS</Txt>
      <Txt x={452} y={781} rot>CZL80</Txt>
      <Txt x={604} y={825} mid>10 min</Txt>
      <Txt x={659} y={796} mid>20 s</Txt>
      <Txt x={678} y={779} rot>5 mV</Txt>

      <svg width={709} height={875} style={{ position: 'absolute', left: 0, top: 0, pointerEvents: 'none' }}>
        <defs>
          <linearGradient id="cbar" x1="0" y1="0" x2="0" y2="1">
            <stop offset="0" stopColor="#c8141c" />
            <stop offset="0.15" stopColor="#ee3a22" />
            <stop offset="0.3" stopColor="#f6c02e" />
            <stop offset="0.48" stopColor="#8cc63f" />
            <stop offset="0.65" stopColor="#5cc0a0" />
            <stop offset="0.8" stopColor="#3aa0da" />
            <stop offset="1" stopColor="#1d3c9c" />
          </linearGradient>
        </defs>
        {[[88, 162], [267, 342], [448, 522], [620, 697]].map(([a, b], i) => (
          <line key={i} x1={a} y1={193} x2={b} y2={193} stroke="#111" strokeWidth={1.2} />
        ))}
        <line x1={459} y1={755} x2={459} y2={808} stroke="#111" strokeWidth={1.2} />
        <rect x={613} y={691} width={4} height={117} fill="url(#cbar)" />
        <rect x={493} y={688} width={3.5} height={124} fill="#d8221c" />
        <polyline points="495,688 635,688 709,697" fill="none" stroke={RED} strokeWidth={1.5} />
        <line x1={619} y1={688} x2={619} y2={697} stroke={RED} strokeWidth={1.2} />
        <polyline points="650,786 669,786 669,772" fill="none" stroke="#111" strokeWidth={1.5} />
        <polyline points="598,811 598,815 611,815 611,811" fill="none" stroke="#111" strokeWidth={1.2} />
      </svg>
    </div>
  );
}
